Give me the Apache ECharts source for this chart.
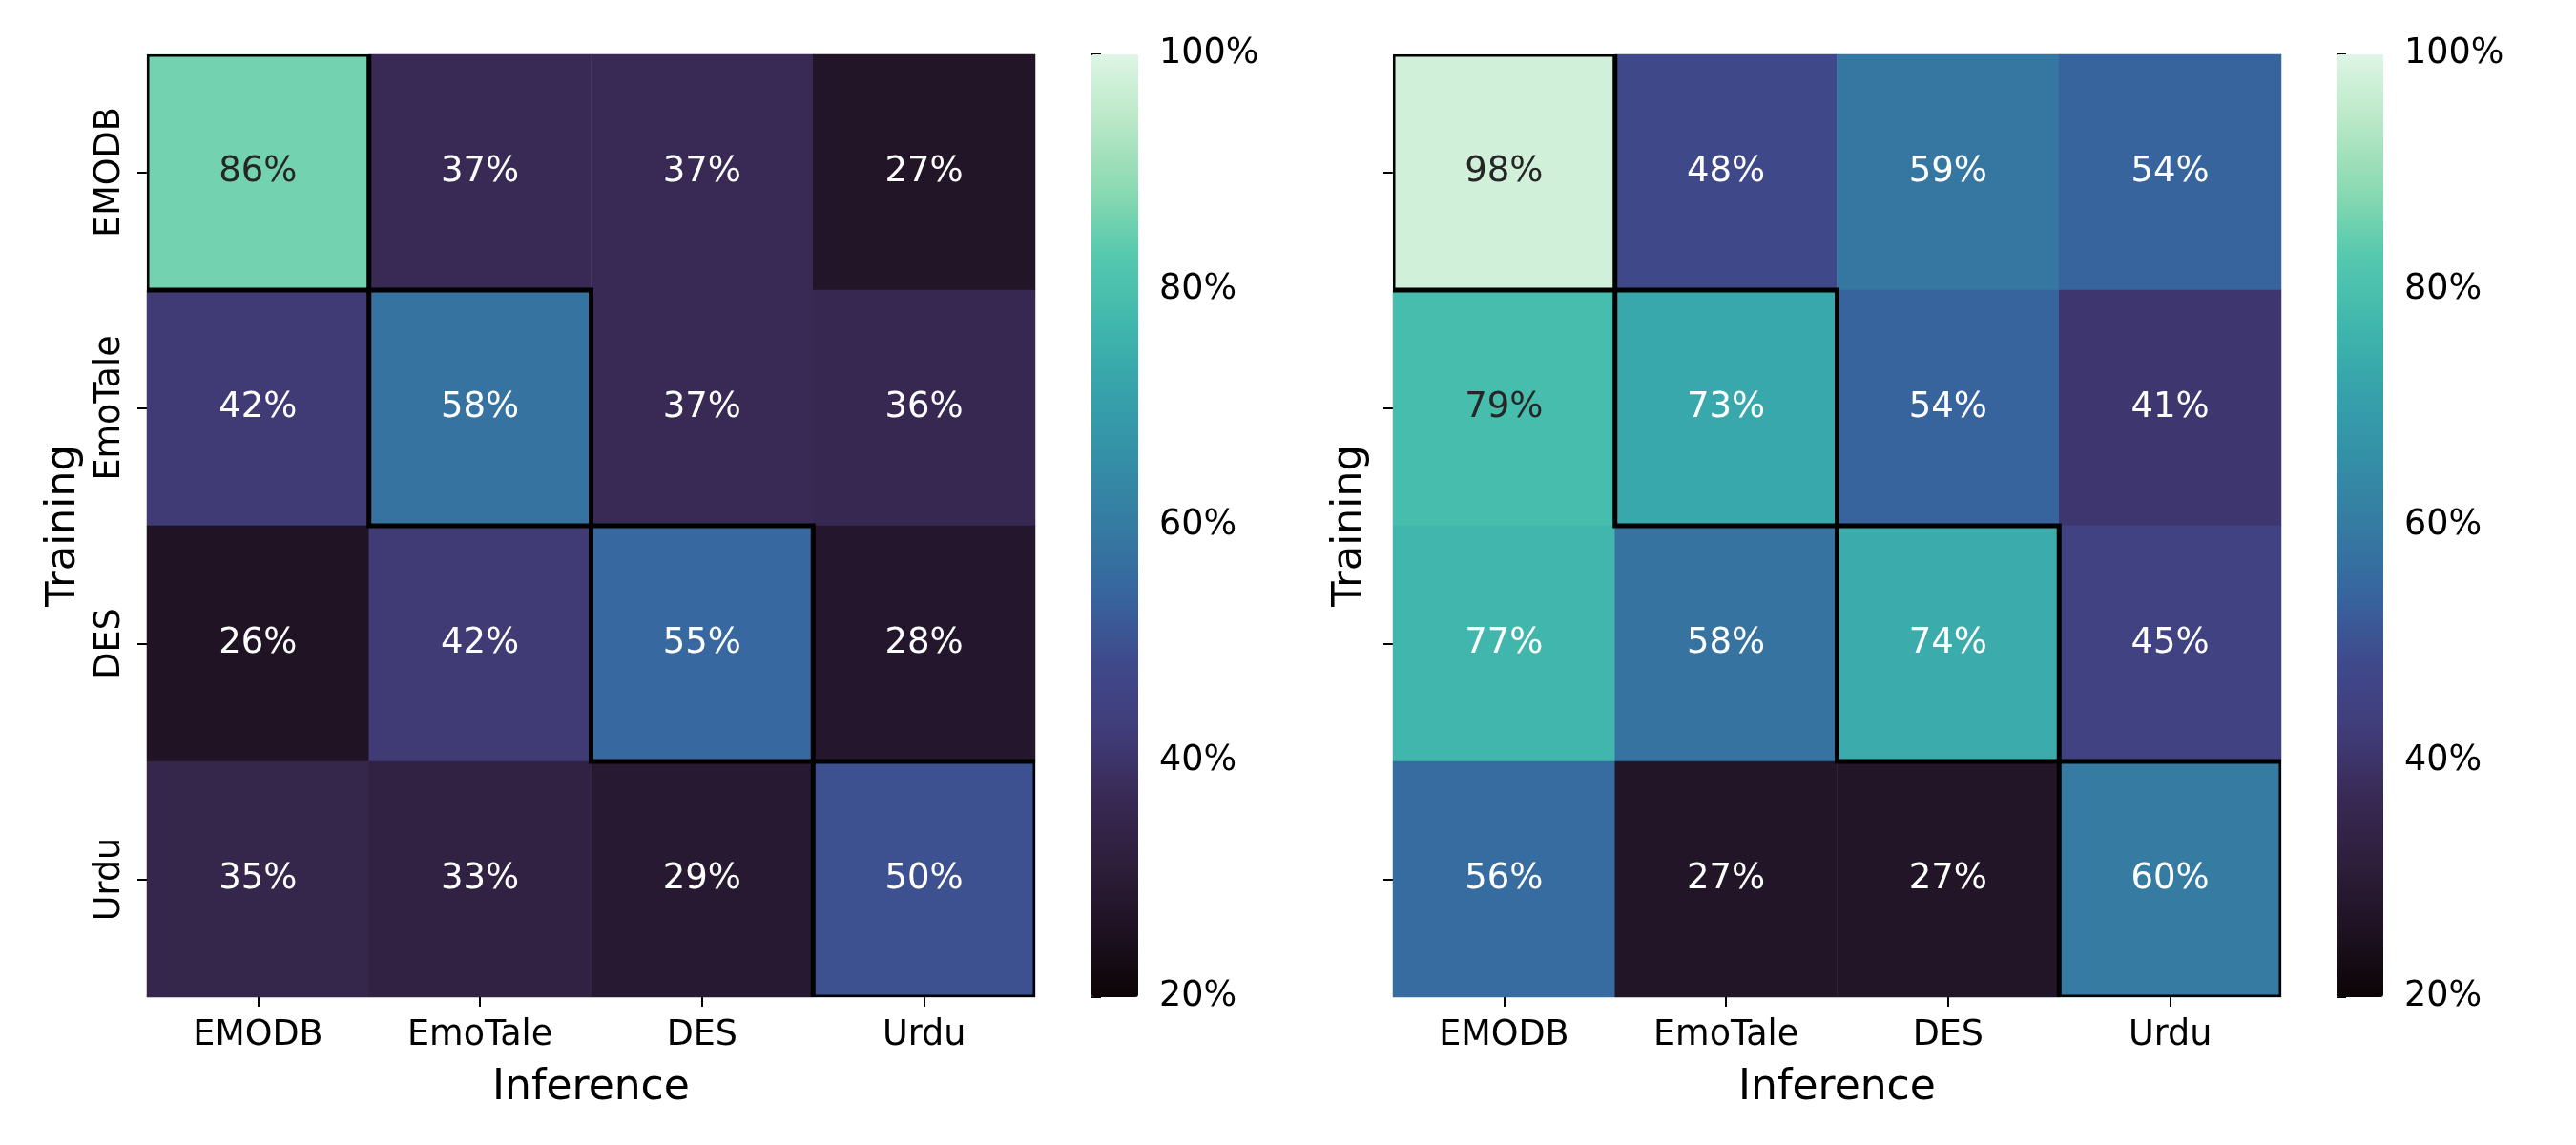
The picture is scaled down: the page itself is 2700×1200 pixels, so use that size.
<!DOCTYPE html>
<html>
<head>
<meta charset="utf-8">
<script src="https://cdn.jsdelivr.net/npm/echarts@6/dist/echarts.min.js"></script>
<style>
html,body{margin:0;padding:0;background:#fff;}
#chart{width:2700px;height:1200px;}
</style>
</head>
<body>
<div id="chart"></div>
<script>
// ---- data ----
var datasets = ['EMODB', 'EmoTale', 'DES', 'Urdu'];          // categories (both axes)
// rows = Training, columns = Inference (values in %)
var leftValues = [
  [86, 37, 37, 27],
  [42, 58, 37, 36],
  [26, 42, 55, 28],
  [35, 33, 29, 50]
];
var rightValues = [
  [98, 48, 59, 54],
  [79, 73, 54, 41],
  [77, 58, 74, 45],
  [56, 27, 27, 60]
];
var colorbarTicks = [20, 40, 60, 80, 100];
var diagonal = [[0, 0], [1, 1], [2, 2], [3, 3]];

// mako colormap (seaborn), evenly spaced stops
var mako = ['#0B0405', '#1E1223', '#2E1E3B', '#392A56', '#413D7B', '#3F4A8C', '#37659E',
            '#357BA2', '#348FA7', '#36A2AB', '#40B7AD', '#55C8AE', '#8BDAB2', '#B9E8C6', '#DEF5E5'];

var FONT = 'DejaVu Sans';

function toCells(mat) {
  var out = [];
  for (var r = 0; r < mat.length; r++) {
    for (var c = 0; c < mat[r].length; c++) {
      var v = mat[r][c];
      out.push({ value: [c, r, v], label: { color: v >= 78 ? '#262626' : '#ffffff' } });
    }
  }
  return out;
}

var gridsPos = [
  { left: 154, top: 57, width: 931, height: 988 },
  { left: 1460, top: 57, width: 931, height: 988 },
  { left: 1144, top: 57, width: 49, height: 988 },
  { left: 2449, top: 57, width: 49, height: 988 }
];

function xAx(gi) {
  return {
    type: 'category', gridIndex: gi, data: datasets,
    name: 'Inference', nameLocation: 'middle', nameGap: 74,
    nameTextStyle: { fontFamily: FONT, fontSize: 44, color: '#000' },
    axisLine: { show: false },
    axisTick: { show: true, alignWithLabel: true, length: 10, lineStyle: { color: '#000', width: 2 } },
    axisLabel: { fontFamily: FONT, fontSize: 36.5, color: '#000', margin: 22 },
    splitLine: { show: false }
  };
}
function yAx(gi, showLabels, gap) {
  return {
    type: 'category', gridIndex: gi, data: datasets, inverse: true,
    name: 'Training', nameLocation: 'middle', nameGap: gap, nameRotate: 90,
    nameTextStyle: { fontFamily: FONT, fontSize: 43, color: '#000' },
    axisLine: { show: false },
    axisTick: { show: true, alignWithLabel: true, length: 10, lineStyle: { color: '#000', width: 2 } },
    axisLabel: { show: showLabels, rotate: 90, fontFamily: FONT, fontSize: 36.5, color: '#000', margin: 20 },
    splitLine: { show: false }
  };
}
function cbX(gi) {
  return { type: 'value', gridIndex: gi, show: false, min: 0, max: 1 };
}
function cbY(gi) {
  return {
    type: 'value', gridIndex: gi, position: 'right', min: colorbarTicks[0],
    max: colorbarTicks[colorbarTicks.length - 1], interval: 20,
    axisLine: { show: false },
    axisTick: { show: true, length: 10, lineStyle: { color: '#000', width: 2 } },
    axisLabel: { fontFamily: FONT, fontSize: 36.5, color: '#000', margin: 22, padding: [6, 0, 0, 0], formatter: '{value}%' },
    splitLine: { show: false }
  };
}

function heat(xi, yi, mat) {
  return {
    type: 'heatmap', xAxisIndex: xi, yAxisIndex: yi, data: toCells(mat),
    label: { show: true, fontFamily: FONT, fontSize: 37, formatter: function (p) { return p.value[2] + '%'; } },
    emphasis: { disabled: true },
    itemStyle: { borderWidth: 0 }
  };
}
function outline(xi, yi) {
  return {
    type: 'custom', xAxisIndex: xi, yAxisIndex: yi, data: diagonal, z: 10, silent: true, clip: true,
    encode: { x: 0, y: 1 },
    renderItem: function (params, api) {
      var p = api.coord([api.value(0), api.value(1)]);
      var s = api.size([1, 1]);
      return {
        type: 'rect',
        shape: { x: p[0] - s[0] / 2, y: p[1] - s[1] / 2, width: s[0], height: s[1] },
        style: { fill: 'none', stroke: '#000', lineWidth: 5 }
      };
    }
  };
}
function vmap(si, pos) {
  return {
    type: 'continuous', seriesIndex: si, min: colorbarTicks[0], max: colorbarTicks[colorbarTicks.length - 1],
    calculable: false, realtime: false, hoverLink: false,
    left: pos.left, top: pos.top, itemWidth: pos.width, itemHeight: pos.height,
    padding: 0, text: null, showLabel: false,
    inRange: { color: mako }
  };
}

var chart = echarts.init(document.getElementById('chart'), null, { renderer: 'canvas' });
chart.setOption({
  backgroundColor: '#ffffff',
  animation: false,
  grid: gridsPos.map(function (g) { return { left: g.left, top: g.top, width: g.width, height: g.height, containLabel: false }; }),
  xAxis: [xAx(0), xAx(1), cbX(2), cbX(3)],
  yAxis: [yAx(0, true, 66), yAx(1, false, 24), cbY(2), cbY(3)],
  visualMap: [vmap(0, gridsPos[2]), vmap(1, gridsPos[3])],
  series: [heat(0, 0, leftValues), heat(1, 1, rightValues), outline(0, 0), outline(1, 1)]
});
</script>
</body>
</html>
